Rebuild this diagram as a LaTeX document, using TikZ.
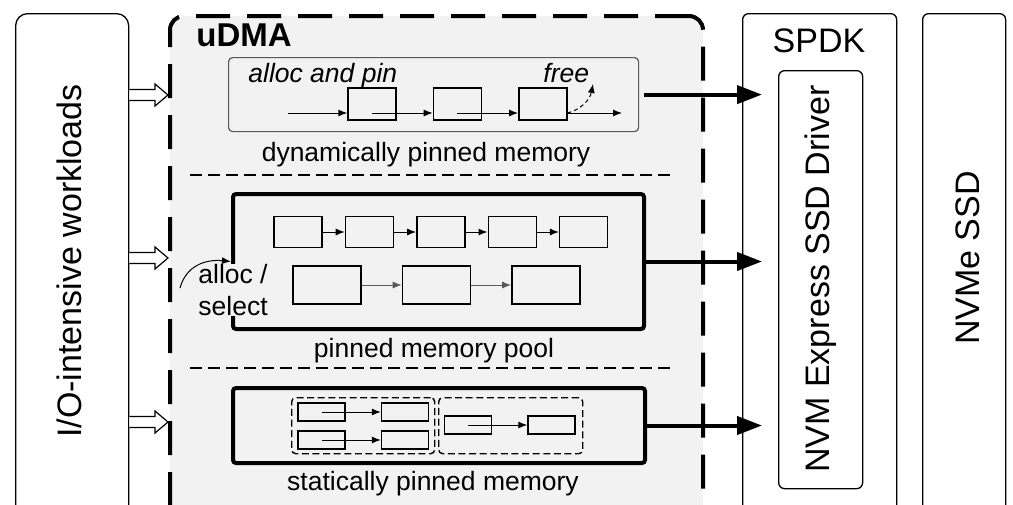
\documentclass[tikz,border=0pt]{standalone}
\usepackage{fontspec}
\setmainfont{Liberation Sans}
\usetikzlibrary{arrows.meta, positioning, calc}
\definecolor{udmagray}{HTML}{F2F2F2}
\definecolor{edgegray}{HTML}{595959}

\begin{document}
\begin{tikzpicture}[
    x=0.5pt, y=-0.5pt,
    big/.style={font=\fontsize{17}{20}\selectfont, inner sep=0},
    small/.style={font=\fontsize{13.25}{16}\selectfont, inner sep=0},
    layer/.style={draw, line width=0.65pt, rounded corners=3pt, fill=white, anchor=north west, inner sep=0},
    membox/.style={draw, line width=2pt, rounded corners=1.5pt, fill=udmagray, anchor=north west, inner sep=0},
    cell/.style={draw, line width=0.7pt, minimum width=24pt, minimum height=16pt, inner sep=0},
    slot/.style={cell, minimum width=23.5pt, minimum height=9pt},
    group/.style={draw, line width=0.7pt, dash pattern=on 3.5pt off 1.8pt, rounded corners=2pt, anchor=north west, inner sep=0},
    link/.style={-{Latex[length=4.5pt,width=3.5pt]}, line width=0.5pt},
    feed/.style={-{Triangle[length=12.5pt,width=9pt]}, line width=2pt, shorten >=8pt},
    sep/.style={line width=0.6pt, dash pattern=on 6pt off 3pt},
    hollow/.style={line width=0.6pt, fill=white, to path={
        ($(\tikztostart)+(0,-5.5)$) -- ($(\tikztotarget)+(-13,-5.5)$) -- ($(\tikztotarget)+(-13,-11)$)
        -- (\tikztotarget) -- ($(\tikztotarget)+(-13,11)$) -- ($(\tikztotarget)+(-13,5.5)$)
        -- ($(\tikztostart)+(0,5.5)$)}}
]
\useasboundingbox (0,0) rectangle (1013,504);
\clip (0,0) rectangle (1013,504);

% Layers
\node[layer, rounded corners=6pt, minimum width=56.5pt, minimum height=254pt] (io) at (15,13) {};
\node[draw, line width=2pt, dash pattern=on 17pt off 8.5pt, rounded corners=7pt, fill=udmagray,
      anchor=north west, inner sep=0, minimum width=266.5pt, minimum height=255pt] (udma) at (168,14) {};
\node[layer, minimum width=77pt, minimum height=254pt] (spdk) at (742,13) {};
\node[layer, minimum width=42pt, minimum height=209pt] (drv) at (778,70) {};
\node[layer, minimum width=41.5pt, minimum height=254pt] (nvme) at (922,13) {};

\node[big, rotate=90, anchor=base] (iolabel) at (82,261) {I/O-intensive workloads};
\node[font=\fontsize{16.5}{19}\selectfont\bfseries, anchor=base west, inner sep=0] (udmalabel) at (196,46) {uDMA};
\node[big, anchor=base] (spdklabel) at (819,52) {SPDK};
\node[big, rotate=90, anchor=base] (drvlabel) at (829,279) {NVM Express SSD Driver};
\node[big, rotate=90, anchor=base] (nvmelabel) at (979,258) {NVMe SSD};

% Dynamically pinned memory
\node[draw=edgegray, line width=0.6pt, rounded corners=2pt, fill=udmagray, anchor=north west,
      inner sep=0, minimum width=205pt, minimum height=37pt] (dyn) at (228,57) {};
\node[cell] (d1) at (372,104) {};
\node[cell, right=18pt of d1] (d2) {};
\node[cell, right=18pt of d2] (d3) {};
\coordinate (din) at (288,113);
\coordinate (dout) at (622,113);
\coordinate (dfree) at (593,84);
\node[small, anchor=base west] (alloc) at (248,82) {\itshape alloc and pin};
\node[small, anchor=base west] (free) at (543,82) {\itshape free};
\node[small, anchor=base] (dynlabel) at (426,161) {dynamically pinned memory};

\draw[link] (din) -- (d1.west |- din);
\draw[link] (d1 |- din) -- (d2.west |- din);
\draw[link] (d2 |- din) -- (d3.west |- din);
\draw[link] (d3.east |- din) -- (dout);
\draw[link, dash pattern=on 2pt off 1.5pt] (d3.east |- din) .. controls (580,110) and (590,100) .. (dfree);

\draw[sep] (190,175) -- (672,175);

% Pinned memory pool
\node[membox, minimum width=205.5pt, minimum height=67.5pt] (pool) at (231,192) {};
\node[cell, minimum height=15.5pt] (p1) at (298,232) {};
\node[cell, minimum height=15.5pt, right=11pt of p1] (p2) {};
\node[cell, minimum height=15.5pt, right=11pt of p2] (p3) {};
\node[cell, minimum height=15.5pt, right=11pt of p3] (p4) {};
\node[cell, minimum height=15.5pt, right=11pt of p4] (p5) {};
\node[cell, minimum width=34pt, minimum height=19pt] (q1) at (327,285) {};
\node[cell, minimum width=34pt, minimum height=19pt, right=20pt of q1] (q2) {};
\node[cell, minimum width=34pt, minimum height=19pt, right=20pt of q2] (q3) {};
\node[small, align=left, anchor=north west, fill=udmagray] (select) at (198,264) {alloc /\\select};
\coordinate (selin) at (180,288);
\node[small, anchor=base] (poollabel) at (434,357) {pinned memory pool};

\draw[link] (p1) -- (p2);
\draw[link] (p2) -- (p3);
\draw[link] (p3) -- (p4);
\draw[link] (p4) -- (p5);
\draw[link, edgegray] (q1) -- (q2);
\draw[link, edgegray] (q2) -- (q3);
\draw[link] (selin) .. controls (186,266) and (205,259) .. (pool.west);

\draw[sep] (190,368) -- (672,368);

% Statically pinned memory
\node[membox, minimum width=206pt, minimum height=37.5pt] (static) at (231,386) {};
\node[group, minimum width=71.5pt, minimum height=28pt] (g1) at (291,397) {};
\node[group, minimum width=72pt, minimum height=28pt] (g2) at (438,397) {};
\node[slot] (s1) at (321.5,412) {};
\node[slot] (s2) at (405,412) {};
\node[slot] (s3) at (321.5,440) {};
\node[slot] (s4) at (405,440) {};
\node[slot] (s5) at (468,425) {};
\node[slot] (s6) at (551.5,425) {};
\node[small, anchor=base] (statlabel) at (433,490) {statically pinned memory};

\draw[link] (s1.center) -- (s2);
\draw[link] (s3.center) -- (s4);
\draw[link] (s5.center) -- (s6);

% Connections
\coordinate (w1) at (io.east |- 0,95);
\coordinate (e1) at (udma.west |- 0,95);
\coordinate (w2) at (io.east |- 0,258);
\coordinate (e2) at (udma.west |- 0,258);
\coordinate (w3) at (io.east |- 0,422);
\coordinate (e3) at (udma.west |- 0,422);
\draw[hollow] (w1) to (e1);
\draw[hollow] (w2) to (e2);
\draw[hollow] (w3) to (e3);

\draw[feed, shorten <=2.5pt] (dyn.east) -- (dyn.east -| drv.west);
\draw[feed] (pool.east) -- (pool.east -| drv.west);
\draw[feed] (static.east) -- (static.east -| drv.west);

\end{tikzpicture}
\end{document}
